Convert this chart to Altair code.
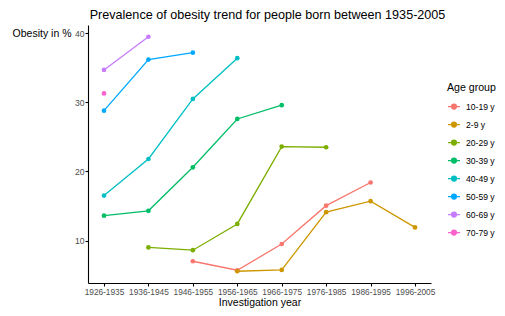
import altair as alt
import pandas as pd

periods = ["1926-1935", "1936-1945", "1946-1955", "1956-1965",
           "1966-1975", "1976-1985", "1986-1995", "1996-2005"]
groups = ["10-19 y", "2-9 y", "20-29 y", "30-39 y",
          "40-49 y", "50-59 y", "60-69 y", "70-79 y"]
colors = ["#F8766D", "#CD9600", "#7CAE00", "#00BE67",
          "#00BFC4", "#00A9FF", "#C77CFF", "#FF61CC"]

v_10_19 = [None, None, 7.0, 5.7, 9.5, 15.05, 18.4, None]
v_2_9 = [None, None, None, 5.55, 5.75, 14.1, 15.7, 11.9]
v_20_29 = [None, 9.0, 8.6, 12.4, 23.6, 23.5, None, None]
v_30_39 = [13.6, 14.3, 20.6, 27.6, 29.6, None, None, None]
v_40_49 = [16.5, 21.8, 30.5, 36.4, None, None, None, None]
v_50_59 = [28.8, 36.2, 37.2, None, None, None, None, None]
v_60_69 = [34.7, 39.5, None, None, None, None, None, None]
v_70_79 = [31.3, None, None, None, None, None, None, None]

series = [v_10_19, v_2_9, v_20_29, v_30_39, v_40_49, v_50_59, v_60_69, v_70_79]
rows = []
for g, vals in zip(groups, series):
    for p, v in zip(periods, vals):
        if v is not None:
            rows.append({"period": p, "group": g, "value": v})
df = pd.DataFrame(rows)

FONT = "Liberation Sans"
sym = "M-1,0L1,0M0.4,0A0.4,0.4,0,1,1,-0.4,0A0.4,0.4,0,1,1,0.4,0Z"

x = alt.X("period:N", sort=periods,
          scale=alt.Scale(type="point", domain=periods, padding=0.36),
          axis=alt.Axis(title="Investigation year", labelAngle=0))
y = alt.Y("value:Q",
          scale=alt.Scale(domain=[3.85, 41.2], nice=False, zero=False),
          axis=alt.Axis(title="Obesity in %", values=[10, 20, 30, 40],
                        titleAngle=0, titleAlign="right", titleBaseline="middle",
                        titleX=-17, titleY=8.5))
color = alt.Color("group:N",
                  scale=alt.Scale(domain=groups, range=colors),
                  legend=alt.Legend(title="Age group", orient="none",
                                    legendX=359, legendY=58,
                                    symbolType=sym, symbolSize=144,
                                    symbolStrokeWidth=1.4, labelLimit=200))

base = alt.Chart(df)
lines = base.mark_line(strokeWidth=1.3).encode(x=x, y=y, color=color, detail="group:N")
points = base.mark_point(filled=True, size=22, opacity=1).encode(x=x, y=y, color=color)

chart = alt.layer(lines, points).properties(
    width=343, height=258,
    autosize=alt.AutoSizeParams(type="none"),
    padding={"left": 80, "top": 17, "right": 66, "bottom": 25},
    title=alt.TitleParams("Prevalence of obesity trend for people born between 1935-2005",
                          anchor="middle", dx=8, offset=3, fontSize=12.6,
                          font=FONT, fontWeight="normal", color="black"),
).configure_view(stroke=None).configure_axis(
    grid=False, domainColor="black", tickColor="black", tickSize=3,
    labelFont=FONT, labelFontSize=8.6, labelColor="#4D4D4D", labelPadding=1,
    titleFont=FONT, titleFontSize=10.5, titleFontWeight="normal", titleColor="black",
    domainWidth=1.1, tickWidth=1.1,
).configure_axisX(titlePadding=2, labelFontSize=8.3).configure_legend(
    titleFont=FONT, titleFontSize=10.6, titleFontWeight="normal", titleColor="black",
    labelFont=FONT, labelFontSize=8.6, labelColor="black", rowPadding=5,
    titlePadding=6, labelOffset=5,
)

chart.save("out.html", embed_options={"renderer": "svg", "actions": False})
